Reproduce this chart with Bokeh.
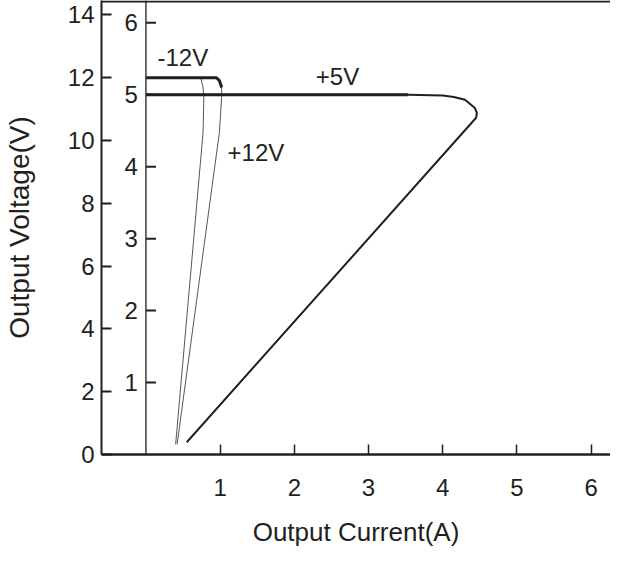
from bokeh.plotting import figure
from bokeh.models import Range1d, FixedTicker, Span
from bokeh.core.properties import value
from bokeh.embed import file_html
from bokeh.resources import INLINE

# ---- data ----
outer_ticks = [0, 2, 4, 6, 8, 10, 12, 14]          # Output Voltage (V), outer scale
inner_ticks = [1, 2, 3, 4, 5, 6]                    # +5V scale
inner_labels = ["1", "2", "3", "4", "5", "6"]
x_ticks = [1, 2, 3, 4, 5, 6]                        # Output Current (A)

# +12V curve (outer scale)
pos12_current = [0.0, 0.95, 0.99, 1.02, 1.02, 0.99, 0.42]
pos12_voltage = [12.0, 12.0, 11.91, 11.69, 11.37, 10.26, 0.32]
# -12V curve (outer scale)
neg12_current = [0.0, 0.74, 0.77, 0.78, 0.77, 0.40]
neg12_voltage = [12.0, 11.98, 11.69, 11.37, 10.26, 0.32]
# +5V curve (inner scale)
plus5_current = [0.0, 3.53, 4.0, 4.15, 4.30, 4.43, 4.46, 4.45, 0.55]
plus5_voltage = [5.0, 5.0, 4.99, 4.97, 4.93, 4.82, 4.75, 4.68, 0.17]

INK = "#231f20"
FONT = "Liberation Sans"

p = figure(width=610, height=555, output_backend="svg", toolbar_location=None,
           x_range=Range1d(-0.599, 6.261), y_range=Range1d(0, 14.46),
           min_border_left=92, min_border_right=0, min_border_top=0,
           min_border_bottom=101)
p.extra_y_ranges = {"inner": Range1d(0, 6.31)}
p.outline_line_color = None
p.grid.visible = False
p.background_fill_color = "white"
p.border_fill_color = "white"

# outer y axis
ya = p.yaxis[0]
ya.ticker = FixedTicker(ticks=outer_ticks)
ya.major_tick_in = 10
ya.major_tick_out = 0
ya.minor_tick_line_color = None
ya.axis_line_width = 2
ya.axis_line_color = INK
ya.major_tick_line_width = 2
ya.major_tick_line_color = INK
ya.major_label_text_font = FONT
ya.major_label_text_font_size = "24px"
ya.major_label_text_color = INK
ya.major_label_standoff = 7
ya.axis_label = "Output Voltage(V)"
ya.axis_label_text_font = FONT
ya.axis_label_text_font_size = "28px"
ya.axis_label_text_font_style = "normal"
ya.axis_label_text_color = INK
ya.axis_label_standoff = 30

# x axis
xa = p.xaxis[0]
xa.ticker = FixedTicker(ticks=x_ticks)
xa.major_tick_in = 10
xa.major_tick_out = 0
xa.minor_tick_line_color = None
xa.axis_line_width = 2.5
xa.axis_line_color = INK
xa.major_tick_line_width = 1.5
xa.major_tick_line_color = INK
xa.major_label_text_font = FONT
xa.major_label_text_font_size = "24px"
xa.major_label_text_color = INK
xa.major_label_standoff = 24
xa.axis_label = "Output Current(A)"
xa.axis_label_text_font = FONT
xa.axis_label_text_font_size = "26px"
xa.axis_label_text_font_style = "normal"
xa.axis_label_text_color = INK
xa.axis_label_standoff = 18

# top border line
p.add_layout(Span(location=14.43, dimension="width", line_color=INK, line_width=2))

# inner axis (+5V scale) at zero current
p.add_layout(Span(location=0, dimension="height", line_color=INK, line_width=1.3))
p.ray(x=[0] * len(inner_ticks), y=inner_ticks, length=10, length_units="screen",
      angle=0, line_color=INK, line_width=2, y_range_name="inner")
p.text(x=[0] * len(inner_ticks), y=inner_ticks, text=inner_labels, x_offset=-8,
       text_align="right", text_baseline="middle", text_font=value(FONT),
       text_font_size="24px", text_color=INK, y_range_name="inner")

# curves
p.line(neg12_current[1:], neg12_voltage[1:], line_color="#555555", line_width=1)
p.line(pos12_current[2:], pos12_voltage[2:], line_color="#555555", line_width=1)
p.line(pos12_current[:4], pos12_voltage[:4], line_color=INK, line_width=3)
p.line(plus5_current, plus5_voltage, line_color=INK, line_width=2, y_range_name="inner")
p.line(plus5_current[:2], plus5_voltage[:2], line_color=INK, line_width=3, y_range_name="inner")

# curve labels
for lx, ly, t in [(0.156, 12.65, "-12V"), (2.29, 12.04, "+5V"), (1.10, 9.62, "+12V")]:
    p.text(x=[lx], y=[ly], text=[t], text_align="left", text_baseline="middle",
           text_font=value(FONT), text_font_size="24px", text_color=INK)

open("out.html", "w").write(file_html(p, INLINE))
